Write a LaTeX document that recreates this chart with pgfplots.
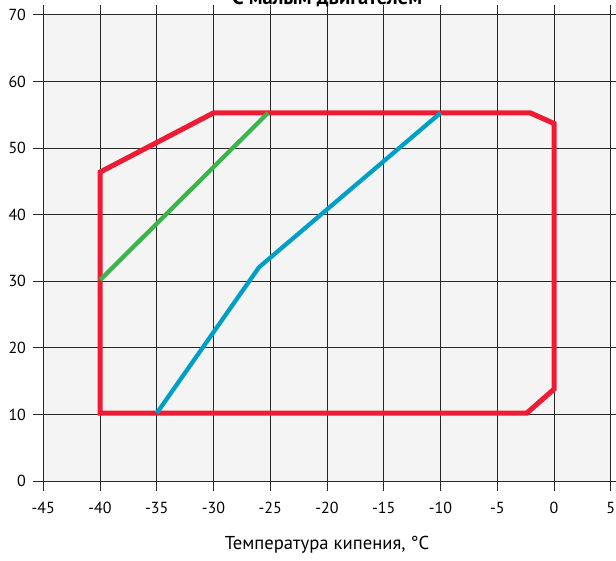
\documentclass[border=0pt]{standalone}
\usepackage{pgfplots}
\pgfplotsset{compat=1.18}
\usepackage{fontspec}
\setmainfont{PT Sans}
\definecolor{bgc}{RGB}{244,244,244}
\definecolor{redc}{RGB}{237,28,52}
\definecolor{greenc}{RGB}{57,181,74}
\definecolor{bluec}{RGB}{0,160,198}
\definecolor{gridc}{RGB}{40,40,40}
\begin{document}
\begin{tikzpicture}
\begin{axis}[
  scale only axis,
  width=425.6pt, height=349.5pt,
  xmin=-45, xmax=5, ymin=0, ymax=70,
  xtick={-45,-40,...,5}, ytick={0,10,...,70},
  tick align=outside, major tick length=7.5pt,
  tick style={gridc, line width=0.75pt},
  axis line style={gridc, line width=0.75pt},
  grid=major, grid style={gridc, line width=0.75pt},
  axis background/.style={fill=bgc},
  /pgf/number format/assume math mode=true,
  ticklabel style={font=\fontsize{12pt}{14pt}\selectfont},
  xticklabel style={yshift=-5pt},
  yticklabel style={xshift=-2pt},
  xlabel={Температура кипения, °C},
  xlabel style={font=\fontsize{14pt}{16pt}\selectfont, yshift=-10pt},
  clip=false,
]
\coordinate (bl) at (rel axis cs:0,0);
\coordinate (tr) at (rel axis cs:1,1);
\addplot[redc, line width=3.8pt, line join=miter] coordinates {
(-40,10) (-40,46.4) (-30,55.3) (-2.1,55.3) (0,53.7) (0,13.8) (-2.4,10.2) (-40,10.2) (-40,46.4)};
\addplot[greenc, line width=3.2pt] coordinates {(-40,30.2) (-25.2,55.3)};
\addplot[bluec, line width=3.2pt] coordinates {(-35,10.2) (-26,32.1) (-10,55.3)};
\node[anchor=base, font=\bfseries\fontsize{15.5pt}{17pt}\selectfont] at ([yshift=8pt]rel axis cs:0.5,1) {С малым двигателем};
\end{axis}
\pgfresetboundingbox
\useasboundingbox ([shift={(-32.5pt,-59.25pt)}]bl) rectangle ([shift={(3.9pt,11.25pt)}]tr);
\end{tikzpicture}
\end{document}
